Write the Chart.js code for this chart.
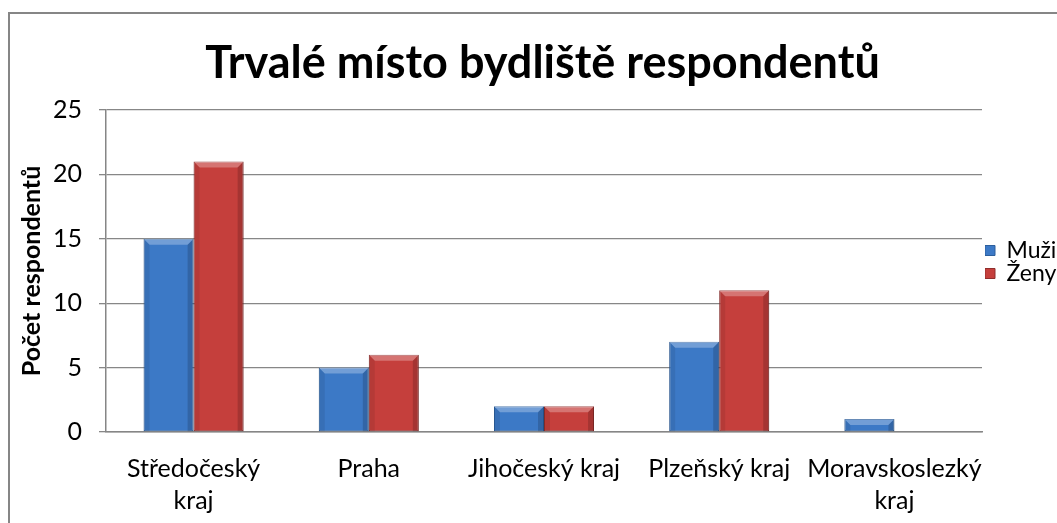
<!DOCTYPE html>
<html>
<head>
<meta charset="utf-8">
<script src="https://cdn.jsdelivr.net/npm/chart.js@4/dist/chart.umd.min.js"></script>
<style>
html,body{margin:0;padding:0;overflow:hidden;background:#fff;}
#wrap{position:absolute;left:0;top:0;width:1085px;height:560px;}
</style>
</head>
<body>
<div id="wrap"><canvas id="c" width="1085" height="560"></canvas></div>
<script>
const categories = [['Středočeský','kraj'], 'Praha', 'Jihočeský kraj', 'Plzeňský kraj', ['Moravskoslezký','kraj']];
const muzi = [15, 5, 2, 7, 1];
const zeny = [21, 6, 2, 11, 0];
const yTicks = [0, 5, 10, 15, 20, 25];
const chartTitle = 'Trvalé místo bydliště respondentů';
const yTitle = 'Počet respondentů';
const seriesNames = ['Muži', 'Ženy'];

const FONT = 'Lato, "Open Sans", sans-serif';
const PLOT_RIGHT = 982;

const frame = {
  id: 'frame',
  beforeDraw(chart) {
    const c = chart.ctx;
    c.save();
    c.fillStyle = '#fff';
    c.fillRect(0, 0, chart.width, chart.height);
    c.strokeStyle = '#868686';
    c.lineWidth = 2;
    c.strokeRect(9, 13, chart.width + 20, chart.height + 20);
    c.restore();
  }
};

const tweak = {
  id: 'tweak',
  afterLayout(chart) {
    if (chart.titleBlock) { chart.titleBlock.left = 0; chart.titleBlock.right = chart.width; }
    if (chart.legend) {
      chart.legend.top -= 18; chart.legend.bottom -= 18;
      chart.legend.left += 3; chart.legend.right += 3;
    }
  }
};

const bevel = {
  id: 'bevel',
  afterDatasetsDraw(chart) {
    const c = chart.ctx;
    chart.data.datasets.forEach((ds, i) => {
      const meta = chart.getDatasetMeta(i);
      meta.data.forEach(el => {
        const p = el.getProps(['x', 'y', 'base', 'width'], true);
        const l = p.x - p.width / 2, r = p.x + p.width / 2;
        const t = Math.min(p.y, p.base), b = Math.max(p.y, p.base);
        const h = b - t;
        if (h < 0.5) return;
        const s = Math.min(6, h / 2);
        c.save();
        c.beginPath();
        c.moveTo(l, t); c.lineTo(r, t); c.lineTo(r - s, t + s); c.lineTo(l + s, t + s); c.closePath();
        c.fillStyle = 'rgba(255,255,255,0.28)';
        c.fill();
        c.beginPath();
        c.moveTo(l, t); c.lineTo(l + s, t + s); c.lineTo(l + s, b); c.lineTo(l, b); c.closePath();
        c.fillStyle = 'rgba(0,0,0,0.08)';
        c.fill();
        c.beginPath();
        c.moveTo(r, t); c.lineTo(r - s, t + s); c.lineTo(r - s, b); c.lineTo(r, b); c.closePath();
        c.fillStyle = 'rgba(0,0,0,0.16)';
        c.fill();
        c.restore();
      });
    });
  }
};

const chart = new Chart(document.getElementById('c'), {
  type: 'bar',
  data: {
    labels: categories,
    datasets: [
      { label: seriesNames[0], data: muzi, backgroundColor: '#3C79C6', borderColor: '#2D5F9C', borderWidth: 1, borderSkipped: false },
      { label: seriesNames[1], data: zeny, backgroundColor: '#C53F3C', borderColor: '#8F2E2C', borderWidth: 1, borderSkipped: false }
    ]
  },
  options: {
    responsive: false,
    animation: false,
    devicePixelRatio: 1,
    layout: { padding: { left: 0, right: 0, top: 0, bottom: 0 } },
    datasets: { bar: { barPercentage: 1.0, categoryPercentage: 0.571 } },
    plugins: {
      title: {
        display: true,
        text: chartTitle,
        color: '#000',
        font: { family: FONT, size: 45, weight: 'bold', lineHeight: 1.2 },
        padding: { top: 36, bottom: 20 }
      },
      legend: {
        position: 'right',
        labels: {
          color: '#000',
          font: { family: FONT, size: 23, lineHeight: 1 },
          boxWidth: 10,
          boxHeight: 10,
          padding: 0
        }
      },
      tooltip: { enabled: false }
    },
    scales: {
      x: {
        grid: { display: false },
        border: { display: true, color: '#868686', width: 1.5 },
        ticks: { color: '#000', font: { family: FONT, size: 25, lineHeight: 1.28 }, maxRotation: 0, autoSkip: false, padding: 13 },
        afterFit(s) { s.height = 128; }
      },
      y: {
        min: 0, max: 25,
        afterBuildTicks(s) { s.ticks = yTicks.map(v => ({ value: v })); },
        grid: { color: '#878787', lineWidth: 1.3, tickLength: 7, drawTicks: true },
        border: { display: true, color: '#868686', width: 1.5 },
        ticks: { color: '#000', font: { family: FONT, size: 25 }, padding: 17 },
        title: {
          display: true, text: yTitle, color: '#000',
          font: { family: FONT, size: 25, weight: 'bold', lineHeight: 1.2 },
          padding: { top: 17, bottom: 0 }
        },
        afterFit(s) { s.width = 106; }
      }
    }
  },
  plugins: [frame, tweak, bevel]
});
chart.options.layout.padding.right = Math.max(0, chart.width - PLOT_RIGHT - chart.legend.width);
chart.update();
</script>
</body>
</html>
